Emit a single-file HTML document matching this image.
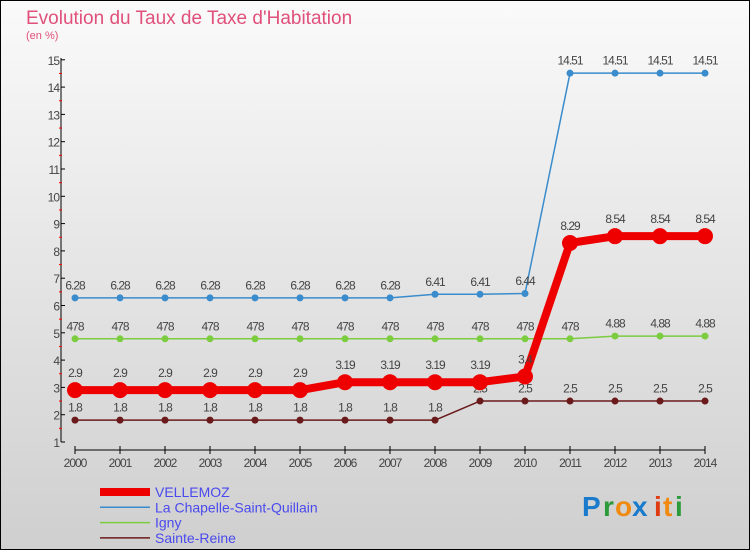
<!DOCTYPE html>
<html><head><meta charset="utf-8"><style>
body{margin:0;width:750px;height:550px;overflow:hidden}
svg text{font-family:"Liberation Sans",sans-serif}
</style></head><body>
<svg width="750" height="550">
<defs><linearGradient id="bg" x1="0" y1="0" x2="0" y2="1"><stop offset="0" stop-color="#fafafa"/><stop offset="1" stop-color="#cfcfcf"/></linearGradient></defs>
<rect x="0.5" y="0.5" width="749" height="549" fill="url(#bg)" stroke="#000"/>
<text x="26" y="24" font-size="19" fill="#e0507a">Evolution du Taux de Taxe d'Habitation</text>
<text x="26" y="39" font-size="11" fill="#e0507a">(en %)</text>
<g id="axes"></g><g id="series"></g><g id="legend"></g>
<g font-size="28" font-weight="bold">
<text x="582" y="516" fill="#1a7acc">P</text><text x="603" y="516" fill="#2a9a3a">r</text><text x="615" y="516" fill="#f08a10">o</text><text x="632" y="516" fill="#1a7acc">x</text><text x="654" y="516" fill="#e03a10">i</text><text x="663" y="516" fill="#f08a10">t</text><text x="675" y="516" fill="#2a9a3a">i</text>
</g>
</svg>
<script>
const years=[2000,2001,2002,2003,2004,2005,2006,2007,2008,2009,2010,2011,2012,2013,2014];
const vellemoz=[2.9,2.9,2.9,2.9,2.9,2.9,3.19,3.19,3.19,3.19,3.4,8.29,8.54,8.54,8.54];
const chapelle=[6.28,6.28,6.28,6.28,6.28,6.28,6.28,6.28,6.41,6.41,6.44,14.51,14.51,14.51,14.51];
const igny=[4.78,4.78,4.78,4.78,4.78,4.78,4.78,4.78,4.78,4.78,4.78,4.78,4.88,4.88,4.88];
const sainte=[1.8,1.8,1.8,1.8,1.8,1.8,1.8,1.8,1.8,2.5,2.5,2.5,2.5,2.5,2.5];
const yTicks=[1,2,3,4,5,6,7,8,9,10,11,12,13,14,15];
const NS='http://www.w3.org/2000/svg';
const xS=i=>75+i*45;
const yS=v=>442-(v-1)*27.3;
function mk(t,a,p){const e=document.createElementNS(NS,t);for(const k in a)e.setAttribute(k,a[k]);p.appendChild(e);return e;}
const ax=document.getElementById('axes');
let l=mk('line',{x1:61,y1:58,x2:61,y2:442,stroke:'#000'},ax);


yTicks.forEach(v=>{
 mk('line',{x1:61,y1:yS(v),x2:65,y2:yS(v),stroke:'#000'},ax);
 if(v<15)mk('line',{x1:59,y1:yS(v+0.5),x2:62,y2:yS(v+0.5),stroke:'#f00'},ax);
 const t=mk('text',{x:59,y:yS(v)+5,'font-size':12,'text-anchor':'end',fill:'#444','letter-spacing':'-1'},ax);t.textContent=v;
 
 
});
l=mk('line',{x1:75,y1:450,x2:705,y2:450,stroke:'#000'},ax);


years.forEach((y,i)=>{
 mk('line',{x1:xS(i),y1:446,x2:xS(i),y2:454,stroke:'#000'},ax);
 const t=mk('text',{x:xS(i),y:467,'font-size':12,'text-anchor':'middle',fill:'#444','letter-spacing':'-1'},ax);t.textContent=y;
 
 
});
const se=document.getElementById('series');
function fmt(v){return String(v).replace(/^(\d)\.(\d\d)$/,(m,a,b)=>v===4.78||v===4.88?a+b:m)}
function draw(name,data,color,w,r,labels){
 const g=mk('g',{},se);
 
 
 mk('polyline',{points:data.map((v,i)=>xS(i)+','+yS(v)).join(' '),fill:'none',stroke:color,'stroke-width':w,'stroke-linejoin':'round'},g);
 data.forEach((v,i)=>{
  const c=mk('circle',{cx:xS(i),cy:yS(v),r:r,fill:color},g);
  
  
  const t=mk('text',{x:xS(i),y:yS(v)-(r+5),'font-size':12,'text-anchor':'middle',fill:'#444','letter-spacing':'-1'},g);
  t.textContent=(v===4.78?'478':v===4.88?'4.88':v);
 });
}
draw('series-chapelle',chapelle,'#3a8ccc',1.5,3.5);
draw('series-igny',igny,'#7ccc40',1.5,3.5);
draw('series-sainte-reine',sainte,'#6a1a1a',1.5,3.5);
draw('series-vellemoz',vellemoz,'#ee0000',8,8);
const lg=document.getElementById('legend');
[['VELLEMOZ','#ee0000',8],['La Chapelle-Saint-Quillain','#3a8ccc',1.5],['Igny','#7ccc40',1.5],['Sainte-Reine','#6a1a1a',1.5]].forEach((d,i)=>{
 const g=mk('g',{},lg);
 
 
 const y=492+i*15.3;
 mk('line',{x1:100,y1:y,x2:150,y2:y,stroke:d[1],'stroke-width':d[2]},g);
 const t=mk('text',{x:155,y:y+5,'font-size':14,fill:'#4a4aee'},g);t.textContent=d[0];
});
</script>
</body></html>
